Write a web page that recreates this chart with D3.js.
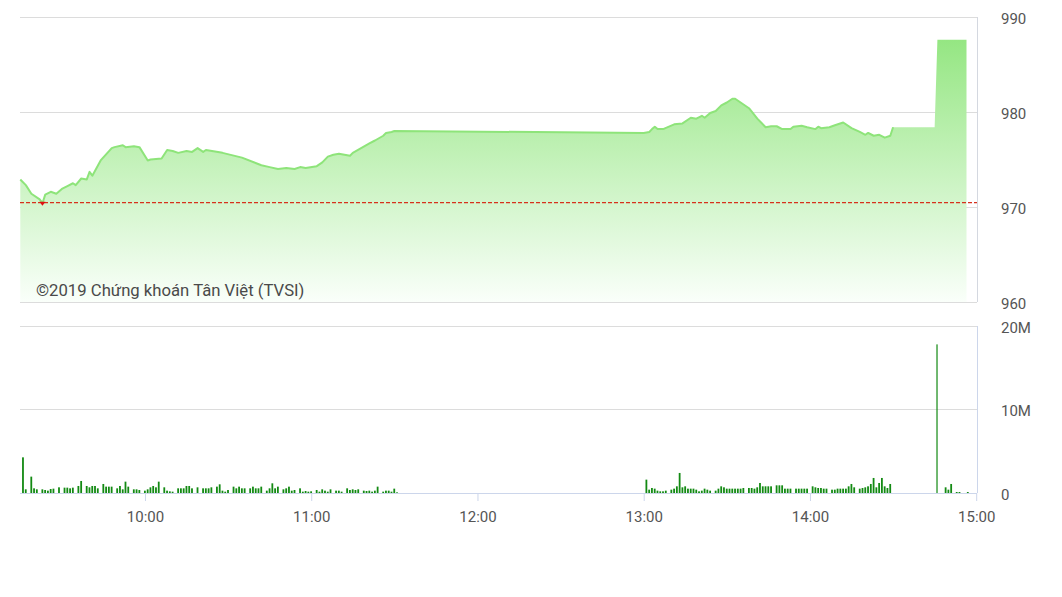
<!DOCTYPE html>
<html><head><meta charset="utf-8">
<script src="https://cdn.jsdelivr.net/npm/d3@7"></script>
<style>
body{margin:0;background:#fff}
svg text{font-family:Roboto,"Noto Sans",sans-serif}
</style>
</head><body>
<svg id="chart" width="1062" height="597"></svg>
<script>
// ---------- data ----------
const priceTimes = ["9:15","9:17","9:19","9:22","9:23","9:24","9:26","9:28","9:30","9:32","9:34","9:35","9:37","9:39","9:40","9:41","9:44","9:48","9:49","9:52","9:53","9:56","9:58","10:01","10:02","10:06","10:08","10:10","10:12","10:15","10:17","10:19","10:21","10:22","10:28","10:35","10:42","10:45","10:48","10:51","10:54","10:56","10:58","11:02","11:04","11:06","11:08","11:10","11:12","11:14","11:15","11:18","11:21","11:23","11:26","11:27","11:29","11:30",
"13:00","13:02","13:03","13:04","13:05","13:07","13:11","13:14","13:17","13:19","13:21","13:22","13:24","13:26","13:28","13:30","13:32","13:33","13:38","13:41","13:44","13:46","13:48","13:50","13:53","13:54","13:57","13:59","14:02","14:03","14:04","14:07","14:09","14:12","14:15","14:18","14:20","14:21","14:23","14:25","14:27","14:29","14:30","14:45","14:46","14:56.5"];
const priceValues = [972.9,972.3,971.4,970.8,970.4,971.3,971.6,971.4,971.9,972.2,972.5,972.3,973.0,972.9,973.7,973.3,974.9,976.2,976.3,976.5,976.3,976.4,976.3,974.9,975.0,975.1,976.0,975.9,975.7,975.9,975.8,976.2,975.8,976.0,975.7,975.2,974.4,974.2,974.0,974.1,974.0,974.2,974.1,974.3,974.7,975.3,975.5,975.6,975.5,975.4,975.7,976.2,976.7,977.0,977.5,977.8,977.9,978.0,
977.8,977.9,978.2,978.45,978.2,978.2,978.7,978.8,979.4,979.3,979.6,979.4,979.9,980.1,980.7,981.0,981.4,981.4,980.4,979.3,978.4,978.5,978.5,978.2,978.2,978.45,978.56,978.4,978.2,978.45,978.3,978.4,978.6,978.9,978.3,977.9,977.6,977.8,977.5,977.6,977.3,977.5,978.4,978.4,987.6,987.6];
const refPrice = 970.47;
const lowPointTime = "9:23";

// volume in millions, one value per minute
const morningStart = "9:15";
const morningVol = [0,4.27,0.44,0,1.96,0.56,0.44,0,0.44,0.36,0.28,0.48,0.52,0,0.68,0,0.64,0.64,0.56,0.64,
0,0.84,1.44,0,0.84,0.68,0.84,0.84,0.56,0,1.08,0.76,0.76,0.76,0,0.56,0.84,0.44,1.36,0.76,
0,0.44,0.44,0.36,0,0.28,0.44,0.68,0.84,0.68,1.36,0,0.68,0.28,0.2,0.16,0,0.56,0.56,0.56,
0.84,0.84,0.56,0,0.68,0,0.56,0.56,0.56,0.68,0,0.76,1.04,0.28,0.16,0.36,0,0.76,0.56,0.76,
0.56,0.56,0,0.56,0.76,0.56,0.56,0.76,0,0.28,0.56,1.16,0.56,0.76,0,0.44,0.56,0.76,0.28,0.36,
0,0.56,0.16,0.24,0.16,0.2,0,0.36,0.16,0.44,0.28,0.16,0.44,0,0.28,0.28,0.16,0,0.56,0.36,
0.44,0.36,0.44,0,0.28,0.24,0.28,0.16,0.28,0.76,0,0.16,0.28,0.28,0.16,0.52,0.08];
const afternoonStart = "13:00";
const afternoonVol = [0,1.6,0.4,0.6,0.52,0.28,0.2,0.2,0.28,0,0.4,0.52,0.8,2.4,0.68,0.8,0.52,0.52,0.52,0.4,
0.2,0.28,0.52,0.4,0.28,0,0.28,0.52,0.8,0.68,0.52,0.52,0.52,0.52,0.52,0.52,0.6,0,0.6,0.6,
0.52,0.68,1.2,0.8,0.8,0.8,0.8,0,0.92,0.92,0.92,0.52,0.52,0.52,0,0.52,0.52,0.52,0.52,0.52,
0,0.8,0.68,0.6,0.6,0.52,0.52,0,0.4,0.4,0.52,0.52,0.52,0.52,0.8,1.08,0.68,0,0.52,0.6,
0.68,0.8,1.08,1.8,0.68,1.2,1.8,0.8,0.6,1.08];
const lateTimes = ["14:46","14:49","14:50","14:51","14:53","14:54","14:57"];
const lateVol = [17.8,0.68,0.4,1.08,0.12,0.12,0.12];

const priceTicks = [960,970,980,990];
const volTicks = [0,10,20];
const volTickLabels = ["0","10M","20M"];
const timeTicks = ["10:00","11:00","12:00","13:00","14:00","15:00"];
const watermark = "©2019 Chứng khoán Tân Việt (TVSI)";

// ---------- helpers ----------
const toMin = s => { const [h,m] = s.split(":").map(Number); return h*60+m; };

const svg = d3.select("#chart");
const L = 20, R = 977;
const x = d3.scaleLinear().domain([toMin("9:15"), toMin("15:00")]).range([20.3, 976.2]);
const yP = d3.scaleLinear().domain([960, 990]).range([302, 17]);
const yV = d3.scaleLinear().domain([0, 20]).range([493, 326]);

// gradient
const defs = svg.append("defs");
const grad = defs.append("linearGradient").attr("id","g").attr("gradientUnits","userSpaceOnUse")
  .attr("x1",0).attr("x2",0).attr("y1",yP(990)).attr("y2",yP(960));
grad.append("stop").attr("offset","0%").attr("stop-color","#8ce478");
grad.append("stop").attr("offset","100%").attr("stop-color","#fafffa");

// price gridlines
svg.append("g").selectAll("line").data(priceTicks).join("line")
  .attr("x1",L).attr("x2",R).attr("y1",d=>yP(d)).attr("y2",d=>yP(d))
  .attr("stroke","#dcdcdc").attr("stroke-width",1).attr("shape-rendering","crispEdges");

// price area + line
const pts = priceTimes.map((t,i)=>({t:toMin(t), v:priceValues[i]}));
svg.append("path").datum(pts)
  .attr("d", d3.area().x(d=>x(d.t)).y0(yP(960)).y1(d=>yP(d.v)))
  .attr("fill","url(#g)");
svg.append("path").datum(pts.filter(d=>d.t < toMin("14:45")))
  .attr("d", d3.line().x(d=>x(d.t)).y(d=>yP(d.v)))
  .attr("fill","none").attr("stroke","#8ee47a").attr("stroke-width",2).attr("stroke-linejoin","round");

// reference dashed line
svg.append("line").attr("x1",L).attr("x2",R+1).attr("y1",yP(refPrice)).attr("y2",yP(refPrice))
  .attr("stroke","#d6311c").attr("stroke-width",1.3).attr("stroke-dasharray","4,2");

// low marker
const lx = x(toMin(lowPointTime)), ly = yP(priceValues[priceTimes.indexOf(lowPointTime)]);
svg.append("path").attr("d",`M${lx-3},${ly-1.5}L${lx+3},${ly-1.5}L${lx},${ly+2.5}Z`).attr("fill","#e01010");

// right border of price panel
svg.append("line").attr("x1",R).attr("x2",R).attr("y1",yP(990)).attr("y2",yP(960))
  .attr("stroke","#d4d8e0").attr("shape-rendering","crispEdges");

// price axis labels
svg.append("g").attr("transform",`translate(${R},0)`)
  .call(d3.axisRight(yP).tickValues(priceTicks).tickSize(0).tickPadding(24).tickFormat(d3.format("d")))
  .call(g=>g.select(".domain").remove())
  .call(g=>g.selectAll("text").attr("fill","#555").attr("font-size",15).attr("font-family","Roboto").attr("dy","0.4em"));

// watermark
svg.append("text").attr("x",36).attr("y",296).text(watermark)
  .attr("fill","#4a4a4a").attr("font-size",16.7);

// volume gridlines
svg.append("g").selectAll("line").data(volTicks).join("line")
  .attr("x1",L).attr("x2",R).attr("y1",d=>yV(d)).attr("y2",d=>yV(d))
  .attr("stroke","#dcdcdc").attr("shape-rendering","crispEdges");
svg.append("line").attr("x1",R).attr("x2",R).attr("y1",yV(20)).attr("y2",yV(0))
  .attr("stroke","#ccd6eb").attr("shape-rendering","crispEdges");

// volume bars
const bars = [];
morningVol.forEach((v,i)=>{ if(v>0) bars.push({t:toMin(morningStart)+i, v}); });
afternoonVol.forEach((v,i)=>{ if(v>0) bars.push({t:toMin(afternoonStart)+i, v}); });
lateTimes.forEach((t,i)=>bars.push({t:toMin(t), v:lateVol[i]}));
svg.append("g").selectAll("rect").data(bars).join("rect")
  .attr("x",d=>x(d.t)-1).attr("width",d=>d.v>10?1.2:1.8)
  .attr("y",d=>yV(d.v)).attr("height",d=>yV(0)-yV(d.v))
  .attr("fill","#138a13");

// volume axis labels
svg.append("g").attr("transform",`translate(${R},0)`)
  .call(d3.axisRight(yV).tickValues(volTicks).tickSize(0).tickPadding(24).tickFormat((d,i)=>volTickLabels[i]))
  .call(g=>g.select(".domain").remove())
  .call(g=>g.selectAll("text").attr("fill","#555").attr("font-size",15).attr("font-family","Roboto").attr("dy","0.4em"));

// time axis
svg.append("g").attr("transform",`translate(0,${yV(0)})`)
  .call(d3.axisBottom(x).tickValues(timeTicks.map(toMin)).tickSize(8).tickPadding(10)
    .tickFormat((d,i)=>timeTicks[i]))
  .call(g=>g.select(".domain").attr("d",`M${L},0.5H${R}`).attr("stroke","#ccd6eb"))
  .call(g=>g.selectAll(".tick line").attr("stroke","#ccd6eb"))
  .call(g=>g.selectAll("text").attr("fill","#555").attr("font-size",15).attr("font-family","Roboto"));
</script>
</body></html>
